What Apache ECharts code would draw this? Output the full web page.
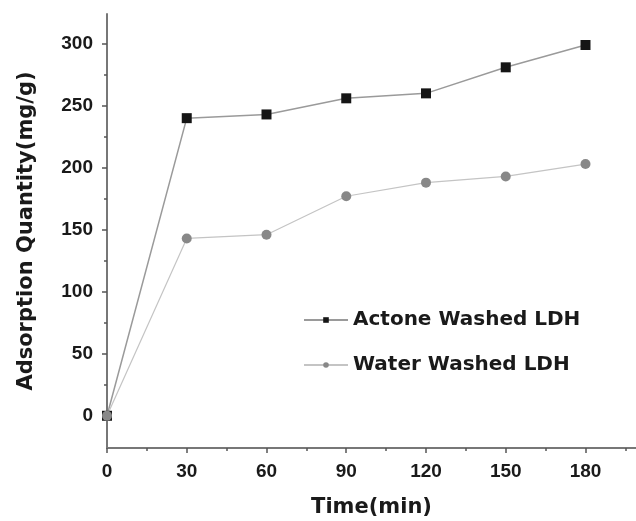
<!DOCTYPE html>
<html>
<head>
<meta charset="utf-8">
<script src="https://cdn.jsdelivr.net/npm/echarts@6/dist/echarts.min.js"></script>
<style>
  html, body { margin: 0; padding: 0; background: #fff; }
  #chart { width: 636px; height: 521px; }
</style>
</head>
<body>
<div id="chart"></div>
<script>
var times = [0, 30, 60, 90, 120, 150, 180];
var actone = [0, 240, 243, 256, 260, 281, 299];
var water = [0, 143, 146, 177, 188, 193, 203];

var xTicks = [0, 30, 60, 90, 120, 150, 180];
var xMinor = [15, 45, 75, 105, 135, 165, 195];
var yTicks = [0, 50, 100, 150, 200, 250, 300];
var yMinor = [25, 75, 125, 175, 225, 275];

var seriesNames = ['Actone Washed LDH', 'Water Washed LDH'];

function pairs(ys) {
    return times.map(function (t, i) { return [t, ys[i]]; });
}

var myChart = echarts.init(document.getElementById('chart'));

var labelFont = {
    fontFamily: 'Liberation Sans',
    fontWeight: 'bold',
    fontSize: 19,
    color: '#1a1a1a'
};
var titleFont = {
    fontFamily: 'DejaVu Sans',
    fontWeight: 'bold',
    fontSize: 21,
    color: '#1a1a1a'
};

option = {
    animation: false,
    backgroundColor: '#fff',
    grid: { left: 107, right: 0, top: 14, bottom: 73, containLabel: false, outerBoundsMode: 'none' },
    legend: {
        orient: 'vertical',
        left: 298,
        top: 305,
        itemWidth: 44,
        itemHeight: 7,
        itemGap: 25,
        data: seriesNames,
        textStyle: { fontFamily: 'DejaVu Sans', fontWeight: 'bold', fontSize: 20, color: '#1a1a1a' }
    },
    xAxis: [
        {
            type: 'value',
            position: 'bottom',
            min: 0,
            max: 199,
            name: 'Time(min)',
            nameLocation: 'middle',
            nameGap: 49,
            nameTextStyle: titleFont,
            axisLine: { onZero: false, lineStyle: { color: '#777', width: 2 } },
            axisTick: { customValues: xTicks, length: 5, lineStyle: { color: '#555', width: 1.5 } },
            axisLabel: Object.assign({ customValues: xTicks, margin: 14 }, labelFont),
            splitLine: { show: false }
        },
        {
            type: 'value',
            position: 'bottom',
            min: 0,
            max: 199,
            axisLine: { show: false, onZero: false },
            axisTick: { customValues: xMinor, length: 3, lineStyle: { color: '#555', width: 1.5 } },
            axisLabel: { show: false },
            splitLine: { show: false }
        }
    ],
    yAxis: [
        {
            type: 'value',
            position: 'left',
            min: -26,
            max: 324,
            name: 'Adsorption Quantity(mg/g)',
            nameLocation: 'middle',
            nameGap: 70,
            nameTextStyle: titleFont,
            axisLine: { show: true, onZero: false, lineStyle: { color: '#777', width: 2 } },
            axisTick: { show: true, customValues: yTicks, length: 5, lineStyle: { color: '#555', width: 1.5 } },
            axisLabel: Object.assign({ customValues: yTicks, margin: 14 }, labelFont),
            splitLine: { show: false }
        },
        {
            type: 'value',
            position: 'left',
            min: -26,
            max: 324,
            axisLine: { show: false, onZero: false },
            axisTick: { show: true, customValues: yMinor, length: 3, lineStyle: { color: '#555', width: 1.5 } },
            axisLabel: { show: false },
            splitLine: { show: false }
        }
    ],
    series: [
        {
            name: seriesNames[0],
            type: 'line',
            xAxisIndex: 0,
            yAxisIndex: 0,
            clip: false,
            symbol: 'rect',
            symbolSize: 10,
            itemStyle: { color: '#151515' },
            lineStyle: { color: '#9a9a9a', width: 1.5 },
            data: pairs(actone)
        },
        {
            name: seriesNames[1],
            type: 'line',
            xAxisIndex: 0,
            yAxisIndex: 0,
            clip: false,
            symbol: 'circle',
            symbolSize: 10,
            itemStyle: { color: '#888' },
            lineStyle: { color: '#c4c4c4', width: 1.2 },
            data: pairs(water)
        }
    ]
};

myChart.setOption(option);
</script>
</body>
</html>
